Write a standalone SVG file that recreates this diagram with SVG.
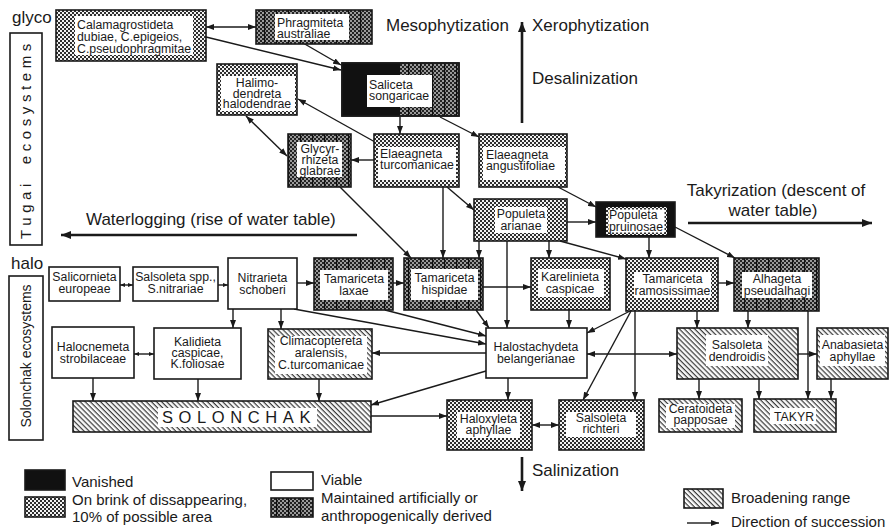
<svg xmlns="http://www.w3.org/2000/svg" width="891" height="530" viewBox="0 0 891 530">
<defs>
  <!-- fine checker: "on brink of disappearing" -->
  <pattern id="chk" width="4" height="4" patternUnits="userSpaceOnUse">
    <rect width="4" height="4" fill="#f2f2f2"/>
    <rect width="2" height="2" fill="#2e2e2e"/>
    <rect x="2" y="2" width="2" height="2" fill="#2e2e2e"/>
  </pattern>
  <!-- dark checker with vertical bands: "maintained artificially" -->
  <pattern id="mnt" width="12" height="4" patternUnits="userSpaceOnUse">
    <rect width="12" height="4" fill="#9a9a9a"/>
    <rect width="2" height="2" fill="#222"/>
    <rect x="4" width="2" height="2" fill="#222"/>
    <rect x="8" width="2" height="2" fill="#222"/>
    <rect x="2" y="2" width="2" height="2" fill="#222"/>
    <rect x="6" y="2" width="2" height="2" fill="#222"/>
    <rect x="10" y="2" width="2" height="2" fill="#222"/>
    <rect width="1.2" height="4" fill="#111"/>
  </pattern>
  <!-- diagonal hatch: "broadening range" -->
  <pattern id="hat" width="3.6" height="3.6" patternUnits="userSpaceOnUse" patternTransform="rotate(45)">
    <rect width="3.6" height="3.6" fill="#fafafa"/>
    <rect width="3.6" height="1.2" fill="#3a3a3a"/>
  </pattern>
  <marker id="ah" viewBox="0 0 8 6" refX="8" refY="3" markerWidth="8" markerHeight="6" markerUnits="userSpaceOnUse" orient="auto-start-reverse">
    <path d="M0,0 L8,3 L0,6 z" fill="#1a1a1a"/>
  </marker>
  <marker id="as" viewBox="0 0 5 4" refX="5" refY="2" markerWidth="5" markerHeight="4" markerUnits="userSpaceOnUse" orient="auto-start-reverse">
    <path d="M0,0 L5,2 L0,4 z" fill="#1a1a1a"/>
  </marker>
  <marker id="ab" viewBox="0 0 10 8" refX="10" refY="4" markerWidth="10" markerHeight="8" markerUnits="userSpaceOnUse" orient="auto">
    <path d="M0,0 L10,4 L0,8 z" fill="#1a1a1a"/>
  </marker>
</defs>
<style>
  text{font-family:"Liberation Sans",Arial,Helvetica,sans-serif;fill:#1a1a1a}
  .box{stroke:#1a1a1a;stroke-width:1.6}
  .chk{fill:url(#chk)}
  .mnt{fill:url(#mnt)}
  .hat{fill:url(#hat)}
  .wht{fill:#fff}
  .blk{fill:#111}
  .lbl{fill:#fff}
  .t{font-size:12.3px;text-anchor:middle}
  .tl{font-size:12.3px}
  .big{font-size:17px}
  .leg{font-size:15px}
  .c{fill:none;stroke:#1a1a1a;stroke-width:1.4;marker-end:url(#ah)}
  .d{marker-start:url(#ah)}
  .s{marker-end:url(#as)}
  .sd{marker-start:url(#as);marker-end:url(#as)}
  .bigarrow{fill:none;stroke:#1a1a1a;stroke-width:2.6;marker-end:url(#ab)}
</style>

<!-- side labels -->
<g id="side-labels">
  <text class="big" x="12" y="23">glyco</text>
  <rect x="10" y="33" width="32" height="212" fill="#fff" stroke="#1a1a1a" stroke-width="1.6"/>
  <text class="leg" transform="translate(31,139) rotate(-90)" text-anchor="middle" letter-spacing="4.6" word-spacing="6">Tugai ecosystems</text>
  <text class="big" x="11" y="269">halo</text>
  <rect x="9" y="276" width="34" height="164" fill="#fff" stroke="#1a1a1a" stroke-width="1.6"/>
  <text transform="translate(31,356) rotate(-90)" text-anchor="middle" font-size="14">Solonchak ecosystems</text>
</g>

<!-- trend labels and arrows -->
<g id="trends">
  <text class="big" x="386" y="31">Mesophytization</text>
  <text class="big" x="532" y="31">Xerophytization</text>
  <text class="big" x="532" y="84">Desalinization</text>
  <line class="bigarrow" x1="522" y1="123" x2="522" y2="22"/>
  <text class="big" x="776" y="196" text-anchor="middle">Takyrization (descent of</text>
  <text class="big" x="773" y="216" text-anchor="middle">water table)</text>
  <line class="bigarrow" x1="688" y1="223" x2="872" y2="223"/>
  <text class="big" x="86" y="225">Waterlogging (rise of water table)</text>
  <line class="bigarrow" x1="357" y1="235" x2="61" y2="235"/>
  <text class="big" x="532" y="476">Salinization</text>
  <line class="bigarrow" x1="522" y1="457" x2="522" y2="491"/>
</g>

<!-- connectors -->
<g id="connectors">
  <line class="c d" x1="206" y1="27" x2="256" y2="27"/>
  <line class="c" x1="206" y1="37" x2="341" y2="70"/>
  <line class="c" x1="303" y1="43" x2="341" y2="65"/>
  <line class="c" x1="375" y1="142" x2="298" y2="99"/>
  <line class="c d" x1="246" y1="116" x2="287" y2="156"/>
  <line class="c" x1="374" y1="160" x2="351" y2="160"/>
  <line class="c" x1="400" y1="117" x2="400" y2="134"/>
  <line class="c" x1="440" y1="117" x2="479" y2="137"/>
  <line class="c" x1="340" y1="187" x2="411" y2="258"/>
  <line class="c" x1="443" y1="187" x2="443" y2="258"/>
  <line class="c" x1="447" y1="187" x2="474" y2="210"/>
  <line class="c" x1="558" y1="187" x2="596" y2="207"/>
  <line class="c" x1="567" y1="222" x2="596" y2="222"/>
  <line class="c" x1="479" y1="241" x2="479" y2="258"/>
  <line class="c" x1="507" y1="241" x2="507" y2="328"/>
  <line class="c" x1="549" y1="241" x2="549" y2="258"/>
  <line class="c" x1="560" y1="241" x2="626" y2="259"/>
  <line class="c" x1="649" y1="237" x2="649" y2="258"/>
  <line class="c" x1="675" y1="227" x2="735" y2="258"/>
  <line class="c sd" x1="120" y1="285" x2="133" y2="285"/>
  <line class="c s" x1="218" y1="285" x2="228" y2="285"/>
  <line class="c" x1="297" y1="283" x2="314" y2="283"/>
  <line class="c" x1="393" y1="283" x2="404" y2="283"/>
  <line class="c" x1="483" y1="287" x2="531" y2="287"/>
  <line class="c" x1="718" y1="283" x2="734" y2="283"/>
  <line class="c" x1="233" y1="309" x2="233" y2="328"/>
  <line class="c" x1="281" y1="309" x2="281" y2="329"/>
  <line class="c" x1="294" y1="309" x2="486" y2="344"/>
  <line class="c" x1="385" y1="310" x2="486" y2="336"/>
  <line class="c" x1="476" y1="310" x2="489" y2="328"/>
  <line class="c" x1="569" y1="310" x2="569" y2="328"/>
  <line class="c" x1="630" y1="311" x2="587" y2="333"/>
  <line class="c d" x1="587" y1="354" x2="677" y2="354"/>
  <line class="c" x1="631" y1="311" x2="583" y2="400"/>
  <line class="c" x1="635" y1="311" x2="635" y2="400"/>
  <line class="c" x1="697" y1="311" x2="697" y2="328"/>
  <line class="c" x1="748" y1="311" x2="748" y2="328"/>
  <line class="c" x1="808" y1="311" x2="808" y2="399"/>
  <line class="c" x1="798" y1="354" x2="817" y2="354"/>
  <line class="c" x1="831" y1="379" x2="831" y2="399"/>
  <line class="c" x1="699" y1="379" x2="699" y2="399"/>
  <line class="c" x1="759" y1="379" x2="759" y2="399"/>
  <line class="c" x1="486" y1="353" x2="372" y2="353"/>
  <line class="c" x1="486" y1="371" x2="371" y2="405"/>
  <line class="c" x1="508" y1="378" x2="508" y2="400"/>
  <line class="c" x1="371" y1="416" x2="447" y2="416"/>
  <line class="c d" x1="532" y1="425" x2="559" y2="425"/>
  <line class="c" x1="319" y1="379" x2="319" y2="401"/>
  <line class="c" x1="93" y1="378" x2="93" y2="401"/>
  <line class="c" x1="198" y1="379" x2="198" y2="401"/>
  <line class="c sd" x1="134" y1="354" x2="154" y2="354"/>
</g>

<!-- nodes -->
<g id="calamagrostideta">
  <rect class="box chk" x="56" y="10" width="150" height="51"/>
  <rect class="lbl" x="75" y="16" width="118" height="39"/>
  <text class="tl" x="77" y="29" font-size="11.8">Calamagrostideta</text>
  <text class="tl" x="77" y="41" font-size="11.8">dubiae, C.epigeios,</text>
  <text class="tl" x="77" y="53" font-size="11.8">C.pseudophragmitae</text>
</g>
<g id="phragmiteta">
  <rect class="box mnt" x="256" y="10" width="116" height="34"/>
  <rect class="lbl" x="275" y="14" width="74" height="26"/>
  <text class="tl" x="277" y="27">Phragmiteta</text>
  <text class="tl" x="277" y="38">australiae</text>
</g>
<g id="saliceta">
  <rect class="box mnt" x="342" y="63" width="117" height="53"/>
  <rect class="blk" x="342" y="63" width="58" height="53"/>
  <rect x="342" y="63" width="117" height="53" fill="none" stroke="#1a1a1a" stroke-width="1.6"/>
  <rect class="lbl" x="367" y="75" width="65" height="32"/>
  <text class="tl" x="369" y="89">Saliceta</text>
  <text class="tl" x="369" y="100">songaricae</text>
</g>
<g id="halimodendreta">
  <rect class="box chk" x="217" y="64" width="80" height="51"/>
  <rect class="lbl" x="221" y="76" width="74" height="35"/>
  <text class="t" x="257" y="87">Halimo-</text>
  <text class="t" x="257" y="97.5">dendreta</text>
  <text class="t" x="257" y="108">halodendrae</text>
</g>
<g id="glycyrrhizeta">
  <rect class="box mnt" x="288" y="134" width="63" height="53"/>
  <rect class="lbl" x="297" y="142" width="45" height="35"/>
  <text class="t" x="320" y="153">Glycyr-</text>
  <text class="t" x="320" y="164">rhizeta</text>
  <text class="t" x="320" y="175">glabrae</text>
</g>
<g id="elaeagneta-turcomanicae">
  <rect class="box chk" x="374" y="134" width="85" height="53"/>
  <rect class="lbl" x="378" y="147" width="78" height="33"/>
  <text class="tl" x="380" y="158">Elaeagneta</text>
  <text class="tl" x="380" y="169">turcomanicae</text>
</g>
<g id="elaeagneta-angustifoliae">
  <rect class="box chk" x="479" y="134" width="88" height="53"/>
  <rect class="lbl" x="483" y="147" width="82" height="33"/>
  <text class="tl" x="486" y="159">Elaeagneta</text>
  <text class="tl" x="486" y="170">angustifoliae</text>
</g>
<g id="populeta-arianae">
  <rect class="box chk" x="474" y="199" width="93" height="42"/>
  <rect class="lbl" x="495" y="207" width="52" height="26"/>
  <text class="t" x="521" y="218">Populeta</text>
  <text class="t" x="521" y="230">arianae</text>
</g>
<g id="populeta-pruinosae">
  <rect class="box blk" x="596" y="202" width="79" height="35"/>
  <rect class="chk" x="606" y="207" width="61" height="28"/>
  <rect class="lbl" x="608.5" y="209.5" width="56" height="23"/>
  <text class="tl" x="609" y="219">Populeta</text>
  <text class="tl" x="609" y="231">pruinosae</text>
</g>
<g id="salicornieta">
  <rect class="box wht" x="49" y="267" width="71" height="34"/>
  <text class="t" x="84.5" y="281">Salicornieta</text>
  <text class="t" x="84.5" y="293">europeae</text>
</g>
<g id="salsoleta-spp">
  <rect class="box wht" x="133" y="267" width="85" height="34"/>
  <text class="t" x="175.5" y="281">Salsoleta spp.,</text>
  <text class="t" x="175.5" y="293">S.nitrariae</text>
</g>
<g id="nitrarieta">
  <rect class="box wht" x="228" y="258" width="69" height="51"/>
  <text class="t" x="262.5" y="282">Nitrarieta</text>
  <text class="t" x="262.5" y="294">schoberi</text>
</g>
<g id="tamariceta-laxae">
  <rect class="box mnt" x="314" y="258" width="79" height="52"/>
  <rect class="lbl" x="320" y="270" width="68" height="30"/>
  <text class="t" x="354" y="283">Tamariceta</text>
  <text class="t" x="354" y="295">laxae</text>
</g>
<g id="tamariceta-hispidae">
  <rect class="box mnt" x="404" y="258" width="79" height="52"/>
  <rect class="lbl" x="411" y="269" width="67" height="31"/>
  <text class="t" x="444.5" y="282">Tamariceta</text>
  <text class="t" x="444.5" y="294">hispidae</text>
</g>
<g id="karelinieta">
  <rect class="box chk" x="531" y="258" width="79" height="52"/>
  <rect class="lbl" x="538" y="269" width="66" height="28"/>
  <text class="t" x="570" y="281">Karelinieta</text>
  <text class="t" x="570" y="293">caspicae</text>
</g>
<g id="tamariceta-ramosissimae">
  <rect class="box chk" x="626" y="258" width="92" height="53"/>
  <rect class="lbl" x="634" y="272" width="77" height="26"/>
  <text class="t" x="672.5" y="283">Tamariceta</text>
  <text class="t" x="672.5" y="295">ramosissimae</text>
</g>
<g id="alhageta">
  <rect class="box mnt" x="734" y="258" width="85" height="53"/>
  <rect class="lbl" x="742" y="272" width="70" height="26"/>
  <text class="t" x="777" y="283">Alhageta</text>
  <text class="t" x="777" y="295">pseudalhagi</text>
</g>
<g id="halocnemeta">
  <rect class="box wht" x="52" y="327" width="82" height="51"/>
  <text class="t" x="93" y="351">Halocnemeta</text>
  <text class="t" x="93" y="363">strobilaceae</text>
</g>
<g id="kalidieta">
  <rect class="box wht" x="154" y="328" width="87" height="51"/>
  <text class="t" x="197.5" y="346">Kalidieta</text>
  <text class="t" x="197.5" y="357">caspicae,</text>
  <text class="t" x="197.5" y="368">K.foliosae</text>
</g>
<g id="climacoptereta">
  <rect class="box hat" x="268" y="329" width="104" height="50"/>
  <rect class="lbl" x="275" y="336" width="92" height="38"/>
  <text class="t" x="321" y="345">Climacoptereta</text>
  <text class="t" x="321" y="357">aralensis,</text>
  <text class="t" x="321" y="369">C.turcomanicae</text>
</g>
<g id="halostachydeta">
  <rect class="box wht" x="486" y="328" width="101" height="50"/>
  <text class="t" x="536" y="351">Halostachydeta</text>
  <text class="t" x="536" y="363">belangerianae</text>
</g>
<g id="salsoleta-dendroidis">
  <rect class="box hat" x="677" y="328" width="121" height="51"/>
  <rect class="lbl" x="706" y="335" width="62" height="31"/>
  <text class="t" x="737" y="349">Salsoleta</text>
  <text class="t" x="737" y="361">dendroidis</text>
</g>
<g id="anabasieta">
  <rect class="box hat" x="817" y="328" width="71" height="51"/>
  <rect class="lbl" x="820" y="335" width="65" height="31"/>
  <text class="t" x="852.5" y="349">Anabasieta</text>
  <text class="t" x="852.5" y="361">aphyllae</text>
</g>
<g id="solonchak">
  <rect class="box hat" x="73" y="401" width="298" height="31"/>
  <rect class="lbl" x="158" y="408" width="159" height="19"/>
  <text x="162" y="423" font-size="16.5" letter-spacing="5.6">SOLONCHAK</text>
</g>
<g id="haloxyleta">
  <rect class="box chk" x="447" y="400" width="85" height="50"/>
  <rect class="lbl" x="457" y="412" width="63" height="26"/>
  <text class="t" x="488.5" y="423">Haloxyleta</text>
  <text class="t" x="488.5" y="434">aphyllae</text>
</g>
<g id="salsoleta-richteri">
  <rect class="box chk" x="559" y="400" width="85" height="50"/>
  <rect class="lbl" x="566" y="412" width="70" height="25"/>
  <text class="t" x="601" y="422">Salsoleta</text>
  <text class="t" x="601" y="433">richteri</text>
</g>
<g id="ceratoideta">
  <rect class="box hat" x="659" y="399" width="83" height="33"/>
  <rect class="lbl" x="666" y="404" width="69" height="24"/>
  <text class="t" x="700.5" y="413">Ceratoideta</text>
  <text class="t" x="700.5" y="424">papposae</text>
</g>
<g id="takyr">
  <rect class="box hat" x="754" y="399" width="82" height="33"/>
  <rect class="lbl" x="770" y="408" width="46" height="16"/>
  <text class="t" x="794" y="421">TAKYR</text>
</g>

<!-- legend -->
<g id="legend">
  <rect class="box blk" x="25" y="470" width="40" height="20"/>
  <text class="leg" x="72" y="487">Vanished</text>
  <rect class="box chk" x="25" y="497" width="40" height="20"/>
  <text class="leg" x="72" y="505">On brink of dissappearing,</text>
  <text class="leg" x="72" y="522">10% of possible area</text>
  <rect class="box wht" x="271" y="472" width="42" height="18"/>
  <text class="leg" x="321" y="485">Viable</text>
  <rect class="box mnt" x="271" y="498" width="42" height="19"/>
  <text class="leg" x="321" y="503">Maintained artificially or</text>
  <text class="leg" x="321" y="521">anthropogenically derived</text>
  <rect class="box hat" x="684" y="489" width="39" height="19"/>
  <text class="leg" x="731" y="503">Broadening range</text>
  <line class="c" x1="687" y1="523" x2="719" y2="523"/>
  <text class="leg" x="731" y="527">Direction of succession</text>
</g>
</svg>
